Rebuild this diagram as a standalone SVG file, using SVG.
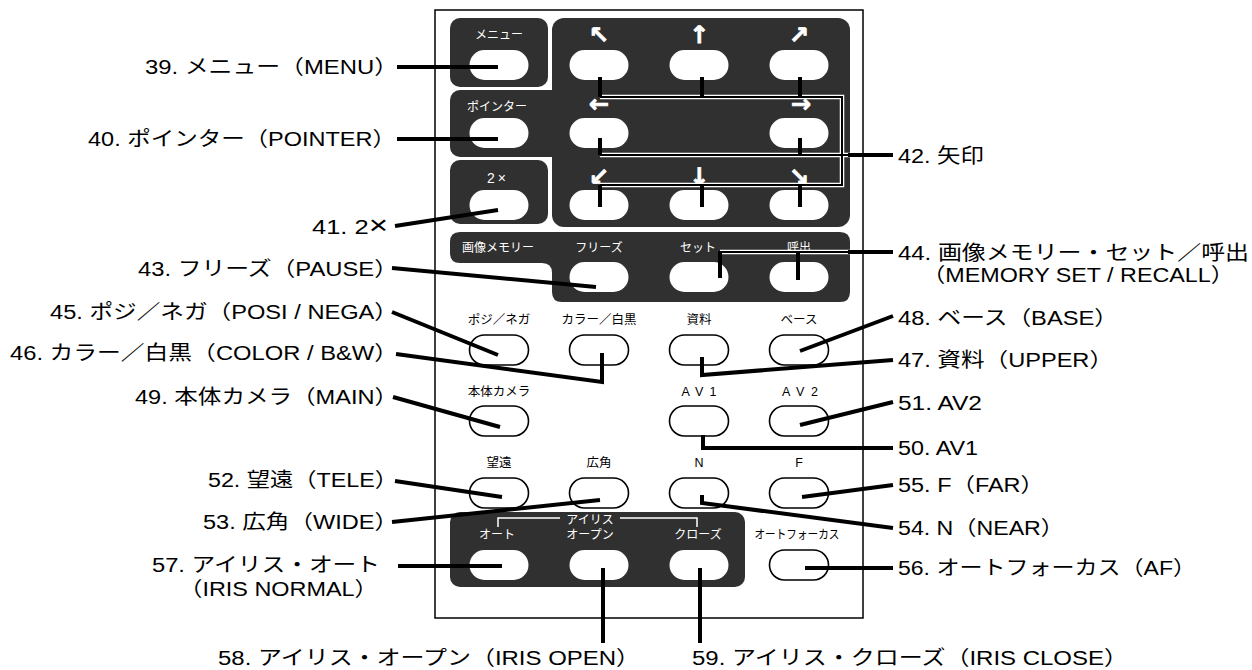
<svg xmlns="http://www.w3.org/2000/svg" width="1252" height="670" viewBox="0 0 1252 670">
<style>
.lbl{font-family:"Liberation Sans","Noto Sans CJK JP",sans-serif;font-size:20px;fill:#000}
.lt{text-anchor:end}
.pw{font-family:"Liberation Sans","Noto Sans CJK JP",sans-serif;font-size:12px;fill:#fff;text-anchor:middle}
.pb{font-family:"Liberation Sans","Noto Sans CJK JP",sans-serif;font-size:12.5px;fill:#000;text-anchor:middle}
.arr{font-family:"DejaVu Sans",sans-serif;font-size:24px;font-weight:bold;fill:#fff;stroke:#fff;stroke-width:0.8;text-anchor:middle}
.dark{fill:#303030}
.bw{fill:#fff}
.bo{fill:#fff;stroke:#000;stroke-width:1.6}
.ld{stroke:#000;stroke-width:4;fill:none}
.thin{stroke:#000;stroke-width:2;fill:none}
.halo{stroke:#fff;stroke-width:4.5;fill:none}
.wl{stroke:#fff;stroke-width:1.5;fill:none}
</style>
<rect width="1252" height="670" fill="#fff"/>
<g id="panel">
  <rect x="435" y="10" width="428" height="608" fill="none" stroke="#000" stroke-width="1.5"/>
  <rect class="dark" x="450" y="18" width="98" height="69" rx="10"/>
  <rect class="dark" x="552" y="18" width="298" height="209" rx="12"/>
  <rect class="dark" x="450" y="90" width="120" height="67" rx="10"/>
  <rect class="dark" x="450" y="160" width="98" height="64" rx="10"/>
  <path class="dark" d="M460 232 H840 Q850 232 850 242 V292 Q850 302 840 302 H562 Q552 302 552 292 V273 Q552 263 542 263 H460 Q450 263 450 253 V242 Q450 232 460 232 Z"/>
  <rect class="dark" x="450" y="512" width="295" height="75" rx="10"/>
  <path class="wl" d="M498 527 V518 H560 M620 518 H697 V527"/>
</g>
<g id="panel-labels">
  <text class="pw" x="499" y="39">メニュー</text>
  <text class="arr" x="599" y="43">↖</text>
  <text class="arr" x="699" y="43">↑</text>
  <text class="arr" x="799" y="43">↗</text>
  <text class="pw" x="497" y="111">ポインター</text>
  <text class="arr" x="599" y="112">←</text>
  <text class="arr" x="801" y="112">→</text>
  <text class="pw" x="498" y="183" style="font-size:14px" letter-spacing="3">2×</text>
  <text class="arr" x="599" y="185">↙</text>
  <text class="arr" x="699" y="185">↓</text>
  <text class="arr" x="799" y="185">↘</text>
  <text class="pw" x="498" y="252">画像メモリー</text>
  <text class="pw" x="599" y="252">フリーズ</text>
  <text class="pw" x="698" y="252">セット</text>
  <text class="pw" x="799" y="252">呼出</text>
  <text class="pb" x="499" y="324">ポジ／ネガ</text>
  <text class="pb" x="599" y="324">カラー／白黒</text>
  <text class="pb" x="699" y="324">資料</text>
  <text class="pb" x="799" y="324">ベース</text>
  <text class="pb" x="499" y="396">本体カメラ</text>
  <text class="pb" x="699" y="396" textLength="35" lengthAdjust="spacing">AV1</text>
  <text class="pb" x="800" y="396" textLength="36" lengthAdjust="spacing">AV2</text>
  <text class="pb" x="499" y="467">望遠</text>
  <text class="pb" x="599" y="467">広角</text>
  <text class="pb" x="699" y="467">N</text>
  <text class="pb" x="799" y="467">F</text>
  <text class="pw" x="590" y="524">アイリス</text>
  <text class="pw" x="497" y="539">オート</text>
  <text class="pw" x="590" y="539">オープン</text>
  <text class="pw" x="698" y="539">クローズ</text>
  <text class="pb" x="797" y="539" textLength="85" lengthAdjust="spacingAndGlyphs">オートフォーカス</text>
</g>
<g id="btn-menu"><rect class="bw" x="469.5" y="50" width="59" height="30" rx="15"/></g>
<g id="btn-ul"><rect class="bw" x="569.5" y="50" width="59" height="30" rx="15"/></g>
<g id="btn-up"><rect class="bw" x="669.5" y="50" width="59" height="30" rx="15"/></g>
<g id="btn-ur"><rect class="bw" x="769.5" y="50" width="59" height="30" rx="15"/></g>
<g id="btn-pointer"><rect class="bw" x="469.5" y="118" width="59" height="30" rx="15"/></g>
<g id="btn-left"><rect class="bw" x="569.5" y="118" width="59" height="30" rx="15"/></g>
<g id="btn-right"><rect class="bw" x="769.5" y="118" width="59" height="30" rx="15"/></g>
<g id="btn-2x"><rect class="bw" x="469.5" y="190" width="59" height="30" rx="15"/></g>
<g id="btn-dl"><rect class="bw" x="569.5" y="190" width="59" height="30" rx="15"/></g>
<g id="btn-down"><rect class="bw" x="669.5" y="190" width="59" height="30" rx="15"/></g>
<g id="btn-dr"><rect class="bw" x="769.5" y="190" width="59" height="30" rx="15"/></g>
<g id="btn-freeze"><rect class="bw" x="569.5" y="262" width="59" height="30" rx="15"/></g>
<g id="btn-set"><rect class="bw" x="669.5" y="262" width="59" height="30" rx="15"/></g>
<g id="btn-recall"><rect class="bw" x="769.5" y="262" width="59" height="30" rx="15"/></g>
<g id="btn-posi"><rect class="bo" x="469.5" y="335" width="59" height="30" rx="15"/></g>
<g id="btn-color"><rect class="bo" x="569.5" y="335" width="59" height="30" rx="15"/></g>
<g id="btn-upper"><rect class="bo" x="669.5" y="335" width="59" height="30" rx="15"/></g>
<g id="btn-base"><rect class="bo" x="769.5" y="335" width="59" height="30" rx="15"/></g>
<g id="btn-main"><rect class="bo" x="469.5" y="406" width="59" height="30" rx="15"/></g>
<g id="btn-av1"><rect class="bo" x="669.5" y="406" width="59" height="30" rx="15"/></g>
<g id="btn-av2"><rect class="bo" x="769.5" y="406" width="59" height="30" rx="15"/></g>
<g id="btn-tele"><rect class="bo" x="469.5" y="478" width="59" height="30" rx="15"/></g>
<g id="btn-wide"><rect class="bo" x="569.5" y="478" width="59" height="30" rx="15"/></g>
<g id="btn-near"><rect class="bo" x="669.5" y="478" width="59" height="30" rx="15"/></g>
<g id="btn-far"><rect class="bo" x="769.5" y="478" width="59" height="30" rx="15"/></g>
<g id="btn-iris-auto"><rect class="bw" x="469.5" y="550" width="59" height="30" rx="15"/></g>
<g id="btn-iris-open"><rect class="bw" x="569.5" y="550" width="59" height="30" rx="15"/></g>
<g id="btn-iris-close"><rect class="bw" x="669.5" y="550" width="59" height="30" rx="15"/></g>
<g id="btn-af"><rect class="bo" x="769.5" y="550" width="59" height="30" rx="15"/></g>
<g id="connectors">
  <path class="ld" d="M397 67 H498"/>
  <path class="ld" d="M397 139 H498"/>
  <path class="ld" d="M395 226 L498 210"/>
  <path class="ld" d="M392 268 L596 287"/>
  <path class="ld" d="M392 312 L498 355"/>
  <path class="ld" d="M396 354 L602 382 V353"/>
  <path class="ld" d="M393 397 L500 427"/>
  <path class="ld" d="M395 481 L502 497"/>
  <path class="ld" d="M392 522 L600 500"/>
  <path class="ld" d="M398 566 H502"/>
  <path class="ld" d="M603 568 V643"/>
  <path class="ld" d="M700 568 V643"/>
  <path class="halo" d="M600 97 H842 V185 H600 M600 155 H850 M720 252 H850"/>
  <path class="thin" d="M600 97 H842 V185 H600 M600 155 H850 M720 252 H850"/>
  <path class="ld" d="M600 77 V97 M702 77 V97 M800 77 V97 M600 138 V155 M800 138 V155 M600 185 V207 M702 185 V207 M800 185 V207 M848 155 H893"/>
  <path class="ld" d="M720 278 V251 M798 280 V251 M848 252 H893"/>
  <path class="ld" d="M893 316 L800 351"/>
  <path class="ld" d="M893 360 L702 375 V357"/>
  <path class="ld" d="M893 402 L800 425"/>
  <path class="ld" d="M703 435 V448 H893"/>
  <path class="ld" d="M893 485 L802 497"/>
  <path class="ld" d="M702 495 V503 L893 528"/>
  <path class="ld" d="M805 568 H893"/>
</g>
<g id="label-39"><text class="lbl lt" x="398" y="74" textLength="253" lengthAdjust="spacingAndGlyphs">39. メニュー（MENU）</text></g>
<g id="label-40"><text class="lbl lt" x="396" y="146" textLength="308" lengthAdjust="spacingAndGlyphs">40. ポインター（POINTER）</text></g>
<g id="label-41"><text class="lbl lt" x="388" y="234" textLength="76" lengthAdjust="spacingAndGlyphs">41. 2<tspan font-size="26">×</tspan></text></g>
<g id="label-43"><text class="lbl lt" x="398" y="276" textLength="260" lengthAdjust="spacingAndGlyphs">43. フリーズ（PAUSE）</text></g>
<g id="label-45"><text class="lbl lt" x="398" y="319" textLength="348" lengthAdjust="spacingAndGlyphs">45. ポジ／ネガ（POSI / NEGA）</text></g>
<g id="label-46"><text class="lbl lt" x="398" y="360" textLength="388" lengthAdjust="spacingAndGlyphs">46. カラー／白黒（COLOR / B&amp;W）</text></g>
<g id="label-49"><text class="lbl lt" x="398" y="404" textLength="263" lengthAdjust="spacingAndGlyphs">49. 本体カメラ（MAIN）</text></g>
<g id="label-52"><text class="lbl lt" x="398" y="487" textLength="190" lengthAdjust="spacingAndGlyphs">52. 望遠（TELE）</text></g>
<g id="label-53"><text class="lbl lt" x="398" y="529" textLength="195" lengthAdjust="spacingAndGlyphs">53. 広角（WIDE）</text></g>
<g id="label-57">
  <text class="lbl lt" x="380" y="572" textLength="228" lengthAdjust="spacingAndGlyphs">57. アイリス・オート</text>
  <text class="lbl" x="179" y="596" textLength="199" lengthAdjust="spacingAndGlyphs">（IRIS NORMAL）</text>
</g>
<g id="label-58"><text class="lbl" x="218" y="665" textLength="422" lengthAdjust="spacingAndGlyphs">58. アイリス・オープン（IRIS OPEN）</text></g>
<g id="label-59"><text class="lbl" x="692" y="665" textLength="436" lengthAdjust="spacingAndGlyphs">59. アイリス・クローズ（IRIS CLOSE）</text></g>
<g id="label-42"><text class="lbl" x="898" y="163" textLength="86" lengthAdjust="spacingAndGlyphs">42. 矢印</text></g>
<g id="label-44">
  <text class="lbl" x="898" y="260" textLength="351" lengthAdjust="spacingAndGlyphs">44. 画像メモリー・セット／呼出</text>
  <text class="lbl" x="922" y="282" textLength="312" lengthAdjust="spacingAndGlyphs">（MEMORY SET / RECALL）</text>
</g>
<g id="label-48"><text class="lbl" x="898" y="325" textLength="220" lengthAdjust="spacingAndGlyphs">48. ベース（BASE）</text></g>
<g id="label-47"><text class="lbl" x="898" y="367" textLength="215" lengthAdjust="spacingAndGlyphs">47. 資料（UPPER）</text></g>
<g id="label-51"><text class="lbl" x="898" y="410" textLength="84" lengthAdjust="spacingAndGlyphs">51. AV2</text></g>
<g id="label-50"><text class="lbl" x="898" y="455" textLength="80" lengthAdjust="spacingAndGlyphs">50. AV1</text></g>
<g id="label-55"><text class="lbl" x="898" y="492" textLength="146" lengthAdjust="spacingAndGlyphs">55. F（FAR）</text></g>
<g id="label-54"><text class="lbl" x="898" y="535" textLength="166" lengthAdjust="spacingAndGlyphs">54. N（NEAR）</text></g>
<g id="label-56"><text class="lbl" x="898" y="575" textLength="298" lengthAdjust="spacingAndGlyphs">56. オートフォーカス（AF）</text></g>
</svg>
